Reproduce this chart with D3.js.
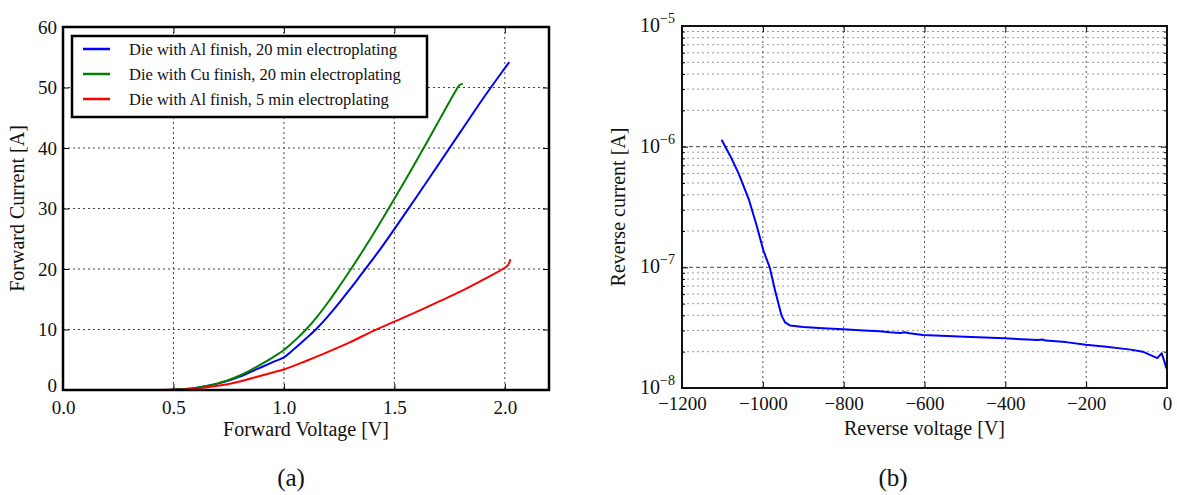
<!DOCTYPE html>
<html>
<head>
<meta charset="utf-8">
<script src="https://cdn.jsdelivr.net/npm/d3@7"></script>
<style>
  body { margin: 0; background: #fff; }
  svg text { font-family: "Liberation Serif", "Times New Roman", Times, "DejaVu Serif", serif !important; fill: #111; }
</style>
</head>
<body>
<svg id="chart" width="1177" height="495"></svg>
<script>
// ---------- Data: panel (a) forward I-V ----------
const fwdXTicks = [0.0, 0.5, 1.0, 1.5, 2.0];
const fwdYTicks = [0, 10, 20, 30, 40, 50, 60];
const seriesNames = [
  "Die with Al finish, 20 min electroplating",
  "Die with Cu finish, 20 min electroplating",
  "Die with Al finish, 5 min electroplating"
];
const seriesColors = ["#0000ff", "#008000", "#ff0000"];

const alV20 = [0, 0.3, 0.5, 0.55, 0.6, 0.65, 0.7, 0.75, 0.8, 0.85, 0.9, 0.95, 1.0, 1.05, 1.1, 1.15, 1.2, 1.25, 1.3, 1.35, 1.4, 1.45, 1.5, 1.6, 1.7, 1.8, 1.9, 2.0, 2.02];
const alI20 = [0, 0, 0.05, 0.15, 0.35, 0.65, 1.05, 1.55, 2.2, 3.0, 3.8, 4.6, 5.4, 6.9, 8.5, 10.2, 12.2, 14.4, 16.7, 19.1, 21.5, 24.0, 26.6, 31.9, 37.3, 42.7, 48.1, 53.2, 54.2];

const cuV20 = [0, 0.3, 0.5, 0.55, 0.6, 0.65, 0.7, 0.75, 0.8, 0.85, 0.9, 0.95, 1.0, 1.05, 1.1, 1.15, 1.2, 1.25, 1.3, 1.35, 1.4, 1.45, 1.5, 1.55, 1.6, 1.65, 1.7, 1.75, 1.78, 1.795, 1.81];
const cuI20 = [0, 0, 0.05, 0.15, 0.35, 0.65, 1.1, 1.65, 2.4, 3.3, 4.3, 5.4, 6.6, 8.2, 10.0, 12.1, 14.5, 17.1, 19.8, 22.6, 25.5, 28.5, 31.6, 34.7, 37.9, 41.1, 44.4, 47.7, 49.6, 50.4, 50.6];

const alV5 = [0, 0.3, 0.5, 0.55, 0.6, 0.65, 0.7, 0.75, 0.8, 0.85, 0.9, 0.95, 1.0, 1.1, 1.2, 1.3, 1.4, 1.5, 1.6, 1.7, 1.8, 1.9, 2.0, 2.015, 2.02, 2.025];
const alI5 = [0, 0, 0.03, 0.1, 0.25, 0.45, 0.7, 1.0, 1.4, 1.9, 2.4, 2.9, 3.4, 4.8, 6.3, 7.9, 9.7, 11.3, 12.9, 14.6, 16.3, 18.2, 20.2, 20.7, 21.0, 21.6];

// ---------- Data: panel (b) reverse I-V ----------
const revXTicks = [-1200, -1000, -800, -600, -400, -200, 0];
const revYDecades = [1e-8, 1e-7, 1e-6, 1e-5];
const revV = [-1102, -1080, -1060, -1034, -1015, -999, -983, -970, -960, -954, -945, -933, -900, -851, -802, -750, -711, -686, -660, -650, -637, -604, -500, -402, -320, -308, -300, -250, -201, -150, -100, -86, -60, -24, -13, -5, -2];
const revI = [1.14e-6, 8.3e-7, 6.0e-7, 3.6e-7, 2.2e-7, 1.39e-7, 1.0e-7, 6.5e-8, 4.8e-8, 4.0e-8, 3.5e-8, 3.3e-8, 3.2e-8, 3.13e-8, 3.07e-8, 3.0e-8, 2.96e-8, 2.9e-8, 2.86e-8, 2.9e-8, 2.84e-8, 2.75e-8, 2.66e-8, 2.58e-8, 2.5e-8, 2.52e-8, 2.47e-8, 2.4e-8, 2.28e-8, 2.2e-8, 2.1e-8, 2.07e-8, 2.0e-8, 1.77e-8, 1.94e-8, 1.6e-8, 1.46e-8];

const svg = d3.select("#chart");
const SERIF = "'Liberation Serif', 'Times New Roman', Times, serif";

// ================= Panel (a) =================
const A = { left: 63, right: 549, top: 27, bottom: 390 };
const xA = d3.scaleLinear().domain([0, 2.2]).range([A.left, A.right]);
const yA = d3.scaleLinear().domain([0, 60]).range([A.bottom, A.top]);
const gA = svg.append("g");

gA.append("g").selectAll("line").data(fwdXTicks.filter(d => d > 0)).join("line")
  .attr("x1", d => xA(d)).attr("x2", d => xA(d)).attr("y1", A.top).attr("y2", A.bottom)
  .attr("stroke", "#444").attr("stroke-width", 1).attr("stroke-dasharray", "2,3");
gA.append("g").selectAll("line").data(fwdYTicks.filter(d => d > 0 && d < 60)).join("line")
  .attr("x1", A.left).attr("x2", A.right).attr("y1", d => yA(d)).attr("y2", d => yA(d))
  .attr("stroke", "#444").attr("stroke-width", 1).attr("stroke-dasharray", "2,3");

const axA_b = d3.axisBottom(xA).tickValues(fwdXTicks).tickFormat(d3.format(".1f")).tickSizeInner(-6).tickSizeOuter(0).tickPadding(11);
const axA_t = d3.axisTop(xA).tickValues(fwdXTicks).tickFormat("").tickSizeInner(-6).tickSizeOuter(0);
const axA_l = d3.axisLeft(yA).tickValues(fwdYTicks).tickSizeInner(-6).tickSizeOuter(0).tickPadding(6);
const axA_r = d3.axisRight(yA).tickValues(fwdYTicks).tickFormat("").tickSizeInner(-6).tickSizeOuter(0);
function styleAxis(g) {
  g.attr("font-family", SERIF).attr("font-size", 19);
  g.select(".domain").remove();
  g.selectAll(".tick line").attr("stroke", "#000").attr("stroke-width", 1);
  g.selectAll(".tick text").attr("fill", "#111");
}
gA.append("g").attr("transform", `translate(0,${A.bottom})`).call(axA_b).call(styleAxis);
gA.append("g").attr("transform", `translate(0,${A.top})`).call(axA_t).call(styleAxis);
const yAxisA = gA.append("g").attr("transform", `translate(${A.left},0)`).call(axA_l).call(styleAxis);
// lift the "0" label slightly so it does not collide with "0.0"
yAxisA.selectAll(".tick text").filter(d => d === 0).attr("dy", "0.1em");
gA.append("g").attr("transform", `translate(${A.right},0)`).call(axA_r).call(styleAxis);

const fwdSeries = [
  alV20.map((v, i) => [v, alI20[i]]),
  cuV20.map((v, i) => [v, cuI20[i]]),
  alV5.map((v, i) => [v, alI5[i]])
];
const lineA = d3.line().x(d => xA(d[0])).y(d => yA(d[1])).curve(d3.curveCatmullRom.alpha(0.5));
fwdSeries.forEach((s, i) => {
  gA.append("path").datum(s).attr("d", lineA).attr("fill", "none")
    .attr("stroke", seriesColors[i]).attr("stroke-width", 2).attr("stroke-linejoin", "round");
});

gA.append("rect").attr("x", A.left).attr("y", A.top).attr("width", A.right - A.left).attr("height", A.bottom - A.top)
  .attr("fill", "none").attr("stroke", "#000").attr("stroke-width", 2.5);

const leg = gA.append("g");
leg.append("rect").attr("x", 72).attr("y", 36).attr("width", 355).attr("height", 81)
  .attr("fill", "#fff").attr("stroke", "#000").attr("stroke-width", 2.5);
seriesNames.forEach((n, i) => {
  const y = 49 + i * 25;
  leg.append("line").attr("x1", 83).attr("x2", 110).attr("y1", y).attr("y2", y)
    .attr("stroke", seriesColors[i]).attr("stroke-width", 2.5);
  leg.append("text").attr("x", 129).attr("y", y + 5.5).attr("font-size", 16.5).text(n);
});

gA.append("text").attr("x", (A.left + A.right) / 2).attr("y", 436).attr("text-anchor", "middle")
  .attr("font-size", 20).text("Forward Voltage [V]");
gA.append("text").attr("transform", `translate(24,${(A.top + A.bottom) / 2}) rotate(-90)`).attr("text-anchor", "middle")
  .attr("font-size", 20).text("Forward Current [A]");
gA.append("text").attr("x", 291).attr("y", 486).attr("text-anchor", "middle").attr("font-size", 25).text("(a)");

// ================= Panel (b) =================
const B = { left: 682, right: 1167, top: 26, bottom: 388 };
const xB = d3.scaleLinear().domain([-1200, 0]).range([B.left, B.right]);
const yB = d3.scaleLog().domain([1e-8, 1e-5]).range([B.bottom, B.top]);
const gB = svg.append("g");

const minorVals = [];
revYDecades.slice(0, -1).forEach(d => { for (let k = 2; k <= 9; k++) minorVals.push(d * k); });

gB.append("g").selectAll("line").data(minorVals).join("line")
  .attr("x1", B.left).attr("x2", B.right).attr("y1", d => yB(d)).attr("y2", d => yB(d))
  .attr("stroke", "#999").attr("stroke-width", 1).attr("stroke-dasharray", "2,3");
gB.append("g").selectAll("line").data(revYDecades.slice(1, -1)).join("line")
  .attr("x1", B.left).attr("x2", B.right).attr("y1", d => yB(d)).attr("y2", d => yB(d))
  .attr("stroke", "#444").attr("stroke-width", 1).attr("stroke-dasharray", "4,3");
gB.append("g").selectAll("line").data(revXTicks.slice(1, -1)).join("line")
  .attr("x1", d => xB(d)).attr("x2", d => xB(d)).attr("y1", B.top).attr("y2", B.bottom)
  .attr("stroke", "#555").attr("stroke-width", 1).attr("stroke-dasharray", "2,3");

const minusFmt = d => (d < 0 ? "\u2212" + Math.abs(d) : String(d));
const axB_b = d3.axisBottom(xB).tickValues(revXTicks).tickFormat(minusFmt).tickSizeInner(-6).tickSizeOuter(0).tickPadding(9);
const axB_t = d3.axisTop(xB).tickValues(revXTicks).tickFormat("").tickSizeInner(-6).tickSizeOuter(0);
const axB_l = d3.axisLeft(yB).tickValues(revYDecades).tickFormat("").tickSizeInner(-6).tickSizeOuter(0);
const axB_r = d3.axisRight(yB).tickValues(revYDecades).tickFormat("").tickSizeInner(-6).tickSizeOuter(0);
const axB_lm = d3.axisLeft(yB).tickValues(minorVals).tickFormat("").tickSizeInner(-3).tickSizeOuter(0);
const axB_rm = d3.axisRight(yB).tickValues(minorVals).tickFormat("").tickSizeInner(-3).tickSizeOuter(0);
gB.append("g").attr("transform", `translate(0,${B.bottom})`).call(axB_b).call(styleAxis);
gB.append("g").attr("transform", `translate(0,${B.top})`).call(axB_t).call(styleAxis);
gB.append("g").attr("transform", `translate(${B.left},0)`).call(axB_l).call(styleAxis);
gB.append("g").attr("transform", `translate(${B.right},0)`).call(axB_r).call(styleAxis);
gB.append("g").attr("transform", `translate(${B.left},0)`).call(axB_lm).call(styleAxis);
gB.append("g").attr("transform", `translate(${B.right},0)`).call(axB_rm).call(styleAxis);

revYDecades.forEach(d => {
  const e = Math.round(Math.log10(d));
  const t = gB.append("text").attr("x", 675).attr("y", yB(d) + 6).attr("text-anchor", "end").attr("font-size", 20);
  t.append("tspan").text("10");
  t.append("tspan").attr("dy", -9).attr("font-size", 14).text("\u2212" + Math.abs(e));
});

const revData = revV.map((v, i) => [v, revI[i]]);
gB.append("path").datum(revData).attr("d", d3.line().x(d => xB(d[0])).y(d => yB(d[1])))
  .attr("fill", "none").attr("stroke", "#0000ff").attr("stroke-width", 2).attr("stroke-linejoin", "round");

gB.append("rect").attr("x", B.left).attr("y", B.top).attr("width", B.right - B.left).attr("height", B.bottom - B.top)
  .attr("fill", "none").attr("stroke", "#111").attr("stroke-width", 2);

gB.append("text").attr("x", (B.left + B.right) / 2).attr("y", 435).attr("text-anchor", "middle")
  .attr("font-size", 20).text("Reverse voltage [V]");
gB.append("text").attr("transform", `translate(625,${(B.top + B.bottom) / 2}) rotate(-90)`).attr("text-anchor", "middle")
  .attr("font-size", 20).text("Reverse current [A]");
gB.append("text").attr("x", 893).attr("y", 486).attr("text-anchor", "middle").attr("font-size", 25).text("(b)");
</script>
</body>
</html>
